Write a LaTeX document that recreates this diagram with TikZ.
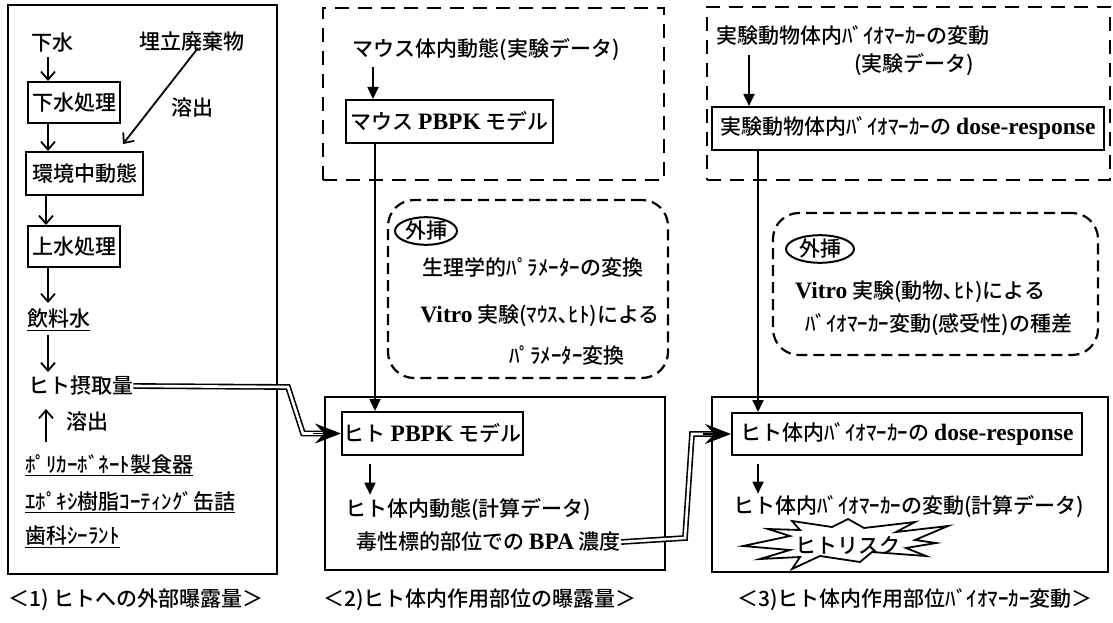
\documentclass[tikz,border=0pt]{standalone}
\usepackage{fontspec}
\setmainfont{Noto Sans CJK JP}[UprightFont={* Medium},BoldFont={* Bold}]
\newfontfamily\latfam{Liberation Serif}[Scale=1.12]
\newcommand{\lat}{\latfam\bfseries}
\usetikzlibrary{arrows.meta,shapes.geometric,calc,fit}
\begin{document}
\begin{tikzpicture}[x=1pt,y=-1pt,
  font=\fontsize{21}{25}\selectfont,
  frame/.style={draw,line width=2.8pt,inner sep=0pt},
  dframe/.style={draw,line width=2.8pt,inner sep=0pt,dash pattern=on 14pt off 9pt},
  rframe/.style={draw,line width=2.2pt,inner sep=0pt,dash pattern=on 11pt off 6pt,rounded corners=26pt},
  ibox/.style={draw,line width=2pt,inner sep=1pt},
  txt/.style={inner sep=0pt,anchor=west},
  ctxt/.style={inner sep=0pt},
  oarr/.style={-{Straight Barb[length=8pt,width=14pt,line width=1.8pt]},line width=1.8pt},
  farr/.style={-{Triangle[length=12pt,width=11pt]},line width=1.8pt},
  dbl/.style={double,line width=1.6pt,double distance=2.6pt},
  bigtip/.style={-{Stealth[length=26pt,width=20pt,inset=9pt]},line width=1.6pt},
  oval/.style={draw,ellipse,line width=2pt,inner sep=0pt}
]
\useasboundingbox[fill=white] (0,0) rectangle (1113,623);

% ---------------- Box 1 ----------------
\node[frame,fit={(8,5) (277,574)}] (box1) {};
\node[ctxt] (gesui) at (52,43) {下水};
\node[ibox,minimum width=92pt,minimum height=41pt] (gshori) at (74,102.5) {下水処理};
\node[ibox,minimum width=117pt,minimum height=43pt] (kankyo) at (84.5,173.5) {環境中動態};
\node[ibox,minimum width=92pt,minimum height=41pt] (joshori) at (74,246.5) {上水処理};
\node[ctxt] (umetate) at (192,42) {埋立廃棄物};
\node[ctxt] (yoshutsu1) at (192,108) {溶出};
\node[txt] (inryo) at (27,320) {\underline{飲料水}};
\node[txt] (intake) at (28,386) {ヒト摂取量};
\node[txt] (yoshutsu2) at (66,422) {溶出};
\node[txt] (pc) at (25,465) {\underline{ﾎﾟﾘｶｰﾎﾞﾈｰﾄ製食器}};
\node[txt] (epoxy) at (25,502) {\underline{ｴﾎﾟｷｼ樹脂ｺｰﾃｨﾝｸﾞ缶詰}};
\node[txt] (dental) at (25,537) {\underline{歯科ｼｰﾗﾝﾄ}};
\node[ctxt] (cap1) at (136,600) {＜1)\ ヒトへの外部曝露量＞};

\coordinate (a1) at (48,57);
\draw[oarr] (a1) -- (a1 |- gshori.north);
\draw[oarr] (gshori.south -| a1) -- (kankyo.north -| a1);
\draw[oarr] (kankyo.south -| 46,0) -- (joshori.north -| 46,0);
\draw[oarr] (joshori.south -| a1) -- ($(a1 |- inryo.north)+(0,-6)$);
\draw[oarr] ($(umetate.south)+(6,-4)$) -- ($(kankyo.north east)+(-21,-7)$);
\draw[oarr] ($(inryo.south -| a1)+(0,4)$) -- ($(a1 |- intake.north)+(0,-4)$);
\coordinate (up0) at (46,442);
\draw[oarr] (up0) -- (46,409);

% ---------------- Box 2 ----------------
\node[dframe,fit={(323,8) (664,180)}] (box2top) {};
\node[ctxt] (mtext) at (486,50) {マウス体内動態(実験データ)};
\node[ibox,minimum width=207pt,minimum height=43pt] (mpbpk) at (449.5,121.5) {マウス {\lat PBPK} モデル};
\node[rframe,fit={(388,200) (668,378)}] (ext2) {};
\node[oval,minimum width=62pt,minimum height=24pt] (gai2) at (426,231) {外挿};
\node[ctxt] (e2a) at (533,267) {生理学的ﾊﾟﾗﾒｰﾀｰの変換};
\node[ctxt] (e2b) at (540,316) {{\lat Vitro} 実験(ﾏｳｽ､ﾋﾄ)による};
\node[ctxt] (e2c) at (567,355) {ﾊﾟﾗﾒｰﾀｰ変換};
\node[frame,fit={(325,397) (665,570)}] (box2) {};
\node[ibox,minimum width=181pt,minimum height=43pt] (hpbpk) at (432.5,433.5) {ヒト {\lat PBPK} モデル};
\node[txt] (hdyn) at (345,510) {ヒト体内動態(計算データ)};
\node[txt] (toxic) at (356,542) {毒性標的部位での {\lat BPA} 濃度};
\node[ctxt] (cap2) at (480,600) {＜2)ヒト体内作用部位の曝露量＞};

\coordinate (a2) at (373,67);
\draw[farr] (a2) -- (a2 |- mpbpk.north);
\draw[farr] (mpbpk.south -| 375,0) -- (hpbpk.north -| 375,0);
\draw[farr] ($(hpbpk.south -| 370,0)+(0,8)$) -- ($(hdyn.north -| 370,0)+(0,-4)$);

% ---------------- Box 3 ----------------
\node[dframe,fit={(707,7) (1110,180)}] (box3top) {};
\node[txt] (btext) at (716,35) {実験動物体内ﾊﾞｲｵﾏｰｶｰの変動};
\node[ctxt] (btext2) at (914,65) {(実験データ)};
\node[ibox,minimum width=392pt,minimum height=43pt] (adr) at (908,128.5) {実験動物体内ﾊﾞｲｵﾏｰｶｰの {\lat dose-response}};
\node[rframe,fit={(773,213) (1098,355)}] (ext3) {};
\node[oval,minimum width=68pt,minimum height=26pt] (gai3) at (820,249) {外挿};
\node[txt] (e3a) at (795,292) {{\lat Vitro} 実験(動物､ﾋﾄ)による};
\node[txt] (e3b) at (805,325) {ﾊﾞｲｵﾏｰｶｰ変動(感受性)の種差};
\node[frame,fit={(712,397) (1108,572)}] (box3) {};
\node[ibox,minimum width=350pt,minimum height=42pt] (hdr) at (907,434) {ヒト体内ﾊﾞｲｵﾏｰｶｰの {\lat dose-response}};
\node[txt] (hbio) at (733,507) {ヒト体内ﾊﾞｲｵﾏｰｶｰの変動(計算データ)};
\node[ctxt] (cap3) at (915,600) {＜3)ヒト体内作用部位ﾊﾞｲｵﾏｰｶｰ変動＞};

\coordinate (a3) at (749,55);
\draw[farr] (a3) -- (a3 |- adr.north);
\draw[farr] (adr.south -| 758,0) -- (hdr.north -| 758,0);
\draw[farr] ($(hdr.south -| 758,0)+(0,8)$) -- ($(hbio.north -| 758,0)+(0,-2)$);

% explosion
\draw[line width=1.8pt,fill=white,line join=miter]
  (743,546) -- (790,536) -- (768,529) -- (800,530) -- (792,521) -- (832,527) -- (848,519)
  -- (864,528) -- (915,522) -- (896,532) -- (948,526) -- (915,540) -- (936,543)
  -- (906,548) -- (926,556) -- (872,552) -- (860,562) -- (820,556) -- (792,569)
  -- (800,557) -- (760,559) -- (790,550) -- cycle;
\node[ctxt] (risk) at (848,545) {ヒトリスク};

% double connectors
\coordinate (d1) at (288,387);
\coordinate (d2) at (303,433.5);
\draw[dbl] (intake.east) -- (d1) -- (d2) -- ($(hpbpk.west)+(-18,0)$);
\draw[bigtip] ($(hpbpk.west)+(-28,0)$) -- (hpbpk.west);
\coordinate (d3) at (685,538);
\coordinate (d4) at (692,434);
\draw[dbl] (toxic.east) -- (d3) -- (d4) -- ($(hdr.west)+(-18,0)$);
\draw[bigtip] ($(hdr.west)+(-28,0)$) -- (hdr.west);
\end{tikzpicture}
\end{document}
